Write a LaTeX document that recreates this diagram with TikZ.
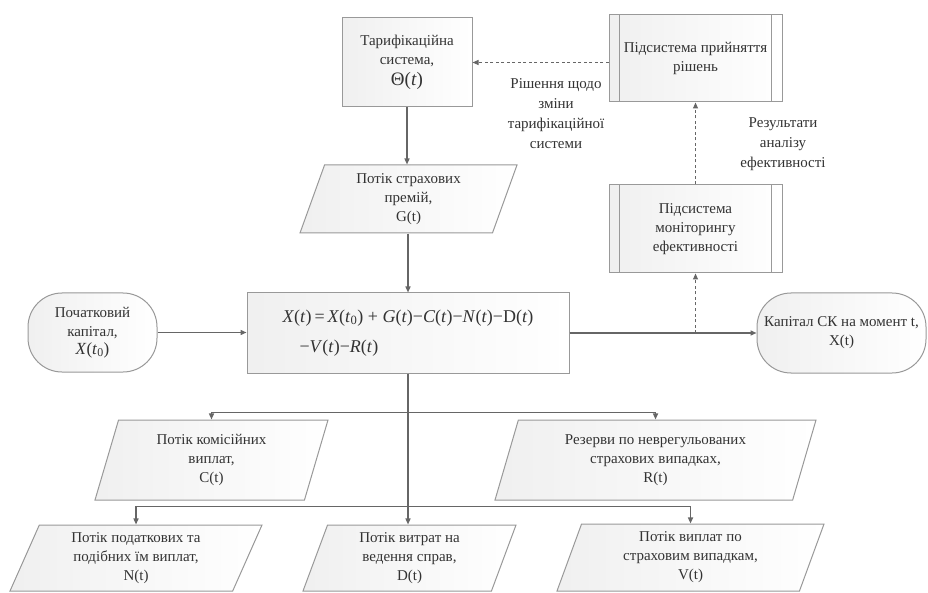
\documentclass[tikz,border=0pt]{standalone}
\usepackage{fontspec}
\setmainfont{Liberation Serif}
\usetikzlibrary{shapes.geometric,arrows.meta,calc}
\begin{document}
\begin{tikzpicture}[x=1pt,y=-1pt,
  every node/.style={text=black!80, font=\fontsize{15}{19}\selectfont, align=center, inner sep=2pt},
  shapebox/.style={draw=black!40, line width=1pt, left color=black!6, right color=white},
  rectbox/.style={shapebox, rectangle},
  para/.style={shapebox, trapezium, trapezium left angle=#1, trapezium right angle=180-#1, trapezium stretches body},
  para/.default=66,
  termbox/.style={shapebox, rectangle, rounded corners=34pt},
  arr/.style={draw=black!60, line width=1.4pt, -{Triangle[length=6pt,width=5pt]}},
  darr/.style={arr, line width=1pt, dash pattern=on 3pt off 2.5pt},
  lbl/.style={font=\fontsize{15}{20}\selectfont}
]
\fill[white] (0,0) rectangle (928,593);
\useasboundingbox (0,0) rectangle (928,593);

% top
\node[rectbox, minimum width=130pt, minimum height=89pt] (tarif) at (407,62.5)
  {Тарифікаційна\\система,\\[2pt]{\fontsize{19}{22}\selectfont Θ(\textit{t})}};
\node[rectbox, minimum width=173pt, minimum height=87pt] (dec) at (695.5,58.5)
  {Підсистема прийняття\\рішень};
\node[rectbox, minimum width=173pt, minimum height=88pt] (mon) at (695.5,229)
  {Підсистема\\моніторингу\\ефективності};
\foreach \n in {dec,mon}{
  \draw[black!40, line width=1pt] ([xshift=11pt]\n.north west) -- ([xshift=11pt]\n.south west);
  \draw[black!40, line width=1pt] ([xshift=-11pt]\n.north east) -- ([xshift=-11pt]\n.south east);
}
\node[para, minimum width=217pt, minimum height=68pt] (prem) at (408.5,199)
  {Потік страхових\\премій,\\G(t)};

% middle
\node[rectbox, minimum width=322pt, minimum height=80pt, align=left,
      font=\fontsize{18}{30}\selectfont] (main) at (408,333)
  {\textit{X}(\textit{t})\,=\,\textit{X}(\textit{t}\textsubscript{0}) + \textit{G}(\textit{t})−\textit{C}(\textit{t})−\textit{N}(\textit{t})−D(\textit{t})\\
   \hspace*{17pt}−\textit{V}(\textit{t})−\textit{R}(\textit{t})};
\node[termbox, minimum width=129pt, minimum height=79pt] (init) at (92.5,332.5)
  {Початковий\\капітал,\\[-1pt]{\fontsize{17}{19}\selectfont\textit{X}(\textit{t}\textsubscript{0})}};
\node[termbox, minimum width=169pt, minimum height=80pt] (cap) at (841.5,333)
  {Капітал СК на момент t,\\X(t)};

% bottom
\node[para=67, minimum width=233pt, minimum height=80pt] (C) at (211.5,460)
  {Потік комісійних\\виплат,\\C(t)};
\node[para=67, minimum width=321pt, minimum height=80pt] (R) at (655.5,460)
  {Резерви по неврегульованих\\страхових випадках,\\R(t)};
\node[para=62, minimum width=252pt, minimum height=66pt] (N) at (136,558)
  {Потік податкових та\\подібних їм виплат,\\N(t)};
\node[para=66, minimum width=213pt, minimum height=66pt] (D) at (409.5,558)
  {Потік витрат на\\ведення справ,\\D(t)};
\node[para=66, minimum width=267pt, minimum height=67pt] (V) at (690.5,557.5)
  {Потік виплат по\\страховим випадкам,\\V(t)};

% labels
\node[lbl] (l1) at (556,114) {Рішення щодо\\зміни\\тарифікаційної\\системи};
\node[lbl] (l2) at (783,144) {Результати\\аналізу\\ефективності};

% connectors
\draw[arr] (tarif.south) -- (prem.north -| tarif.south);
\draw[arr] (prem.south -| main.north) -- (main.north);
\draw[arr] (init.east) -- (main.west |- init.east);
\draw[arr] (main.east) -- (cap.west |- main.east);
\coordinate (mj) at (mon.south |- main.east);
\draw[darr] (mj) -- (mon.south);
\draw[darr] (mon.north) -- (dec.south);
\draw[darr] (dec.west |- tarif.east) -- (tarif.east);

\coordinate (j1) at ($(main.south)+(0,39)$);
\coordinate (j2) at ($(main.south)+(0,133)$);
\draw[arr] (main.south) -- (D.north -| main.south);
\draw[arr] (j1) -| (C.north);
\draw[arr] (j1) -| (R.north);
\draw[arr] (j2) -| (N.north);
\draw[arr] (j2) -| (V.north);
\end{tikzpicture}
\end{document}
